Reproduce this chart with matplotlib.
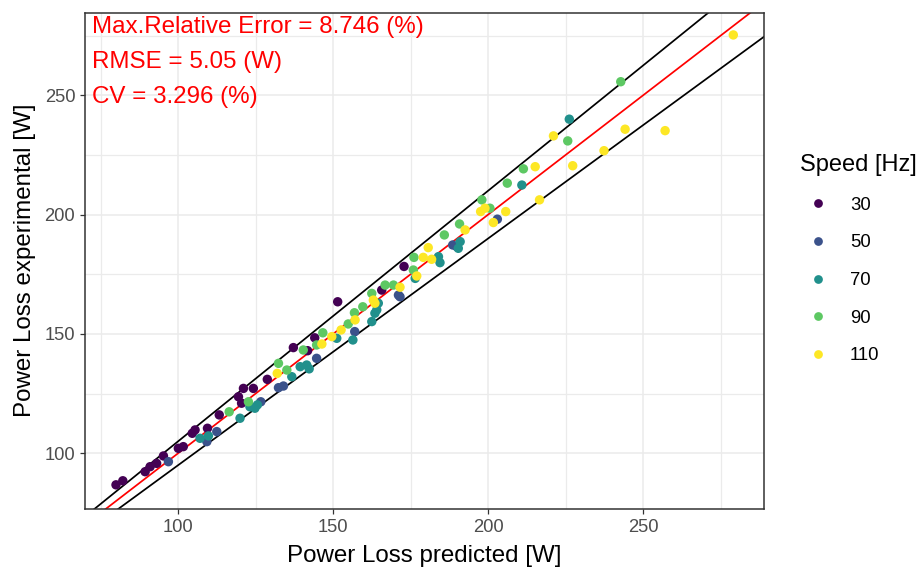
import matplotlib
matplotlib.use("Agg")
import matplotlib.pyplot as plt
import numpy as np
from matplotlib.lines import Line2D

plt.rcParams['font.family'] = ['Liberation Sans', 'DejaVu Sans']

# ---- data ----
speeds = ["30", "50", "70", "90", "110"]
colors = ["#440154", "#3B528B", "#21908C", "#5DC863", "#FDE725"]

pred_30 = [80.0, 82.2, 89.4, 91.0, 93.1, 95.3, 100.1, 101.7, 105.5, 104.6, 109.5, 113.3,
           119.5, 120.5, 121.1, 124.3, 128.8, 137.2, 141.8, 144.1, 151.5, 165.7, 172.9]
exp_30 = [86.8, 88.5, 92.3, 94.4, 95.8, 98.9, 102.1, 102.8, 109.8, 108.4, 110.5, 116.1,
          123.7, 121.0, 127.2, 127.2, 131.0, 144.3, 143.0, 148.4, 163.5, 168.4, 178.3]

pred_50 = [96.9, 109.3, 112.5, 126.7, 132.4, 134.0, 144.7, 157.0, 171.1, 171.6, 188.6, 189.9, 203.0]
exp_50 = [96.5, 104.9, 109.1, 121.6, 127.5, 128.2, 139.8, 151.0, 166.3, 165.6, 187.3, 186.6, 198.1]

pred_70 = [107.1, 109.8, 120.0, 123.2, 124.8, 125.6, 136.7, 139.4, 141.5, 142.3, 151.2, 156.4,
           162.5, 163.5, 164.1, 164.6, 176.5, 184.0, 184.5, 190.4, 191.0, 210.9, 226.2]
exp_70 = [106.3, 107.3, 114.7, 119.5, 118.9, 120.3, 132.1, 136.3, 137.0, 135.4, 148.2, 147.5,
          155.2, 158.7, 160.1, 162.9, 173.3, 182.4, 179.9, 185.9, 188.7, 212.4, 240.0]

pred_90 = [116.5, 122.7, 132.4, 135.1, 140.4, 144.7, 146.7, 154.9, 156.9, 159.6, 162.5, 166.8,
           169.5, 175.9, 176.1, 185.9, 190.8, 198.0, 200.6, 206.2, 211.4, 225.7, 242.8]
exp_90 = [117.4, 121.6, 137.7, 134.9, 143.3, 145.4, 150.5, 154.2, 158.9, 161.4, 167.0, 170.5,
          170.5, 176.8, 182.1, 191.5, 196.1, 206.2, 202.7, 213.2, 219.2, 230.9, 255.7]

pred_110 = [132.0, 146.4, 149.6, 152.6, 157.1, 163.0, 163.5, 171.6, 177.0, 179.1, 180.7, 181.8,
            192.6, 197.6, 199.0, 201.7, 205.7, 215.2, 216.6, 221.1, 227.3, 237.4, 244.2, 257.1, 279.1]
exp_110 = [133.5, 145.8, 148.9, 151.7, 155.9, 164.2, 162.9, 169.6, 174.3, 182.1, 186.2, 181.3,
           193.6, 201.3, 202.7, 196.7, 201.3, 220.1, 206.2, 233.0, 220.5, 226.8, 235.8, 235.2, 275.3]

line_slopes = [1.05, 0.95]  # +/- 5 % bands
annotations = ["Max.Relative Error = 8.746 (%)", "RMSE = 5.05 (W)", "CV = 3.296 (%)"]
xticks = [100, 150, 200, 250]
yticks = [100, 150, 200, 250]

preds = [pred_30, pred_50, pred_70, pred_90, pred_110]
exps = [exp_30, exp_50, exp_70, exp_90, exp_110]

# ---- figure ----
W, H = 921, 568
fig = plt.figure(figsize=(W / 100, H / 100), dpi=100)
left, right, top, bottom = 85, 764, 12.5, 508.7
ax = fig.add_axes([left / W, 1 - bottom / H, (right - left) / W, (bottom - top) / H])

xlim = (70.0, 289.0)
ylim = (76.8, 284.7)
ax.set_xlim(*xlim)
ax.set_ylim(*ylim)

# grid
ax.set_xticks(xticks)
ax.set_yticks(yticks)
ax.set_xticks([75, 125, 175, 225, 275], minor=True)
ax.set_yticks([125, 175, 225, 275], minor=True)
ax.grid(True, which='major', color='#EBEBEB', lw=1.1, zorder=0)
ax.grid(True, which='minor', color='#EBEBEB', lw=0.9, zorder=0)
ax.set_axisbelow(True)
ax.tick_params(which='minor', length=0)
ax.tick_params(which='major', length=3.6, width=0.9, color='#333333',
               labelcolor='#4D4D4D', labelsize=13.2, pad=3.5)

for sp in ax.spines.values():
    sp.set_color('#333333')
    sp.set_linewidth(1.1)

# reference lines
xx = np.array([0, 400])
ax.plot(xx, xx * line_slopes[0], color='black', lw=1.25, zorder=2)
ax.plot(xx, xx * line_slopes[1], color='black', lw=1.25, zorder=2)
ax.plot(xx, xx, color='red', lw=1.25, zorder=2)

# points
for p, e, c in zip(preds, exps, colors):
    ax.scatter(p, e, s=46, color=c, edgecolors='none', zorder=3)

# annotation text
ypos = [276.2, 261.6, 246.9]
for t, yv in zip(annotations, ypos):
    ax.text(72.3, yv, t, color='red', fontsize=17.4, va='baseline', ha='left', zorder=4)

ax.set_xlabel("Power Loss predicted [W]", fontsize=17.4, color='black', labelpad=7)
ax.set_ylabel("Power Loss experimental [W]", fontsize=17.4, color='black', labelpad=6)

# legend
handles = [Line2D([], [], ls='none', marker='o', markersize=6.3, markerfacecolor=c,
                  markeredgecolor='none') for c in colors]
leg = fig.legend(handles, speeds, title="Speed [Hz]", loc='upper left',
                 bbox_to_anchor=(800 / W, 1 - 154 / H), frameon=False,
                 fontsize=13.3, title_fontsize=17, labelspacing=1.12,
                 handlelength=2.0, handletextpad=0.7, alignment='left',
                 borderaxespad=0, borderpad=0)

fig.savefig("out.png", dpi=100)
